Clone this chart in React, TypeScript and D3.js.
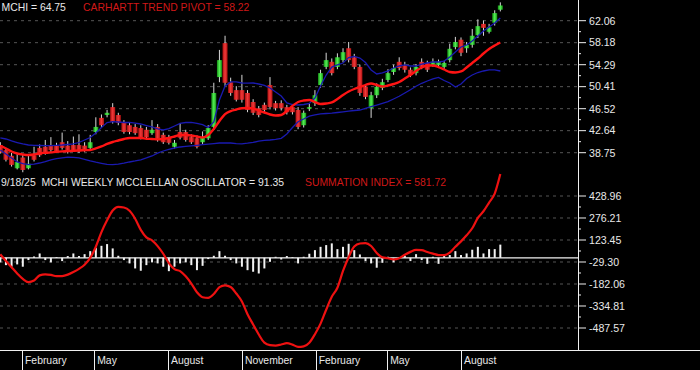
import React from "react";
import * as d3 from "d3";

// ---------- DATA ----------
const startWeek = new Date(2024, 0, 5);
const opens = [40.1,39.2,38.2,36.0,37.9,36.0,38.3,39.6,39.8,40.1, 40.0,40.6,40.0,40.1,40.1,40.0,39.6,42.4,44.9,45.4, 46.8,45.4,44.0,43.6,43.3,43.1,42.8,42.2,43.3,41.9, 41.5,39.8,42.4,42.4,41.5,41.3,40.6,41.3,43.3,52.1, 58.1,51.2,49.8,49.8,49.3,47.7,46.6,47.2,50.7,47.5, 47.5,46.8,46.8,46.3,43.6,46.5,47.5,50.7,53.9,54.8, 53.9,55.1,57.2,55.6,53.9,50.4,46.6,48.9,50.2,51.6, 53.0,54.8,54.2,53.4,52.8,54.8,54.6,54.2,54.2,53.9, 55.1,57.4,58.7,57.2,57.8,59.5,61.5,60.1,61.7,64.0];
const highs = [40.6,39.6,38.7,38.5,38.4,38.2,39.8,40.2,41.0,41.5, 40.5,42.3,40.8,41.6,42.0,40.6,41.9,45.0,45.5,46.3, 47.5,45.8,44.5,44.0,43.8,43.6,43.3,44.5,43.8,42.3, 41.9,41.0,44.0,42.8,42.0,41.8,42.5,43.6,51.1,56.9, 59.4,52.0,50.5,52.5,49.8,48.2,47.0,47.6,52.1,47.9, 48.0,47.2,47.3,46.8,46.2,47.4,49.8,53.4,56.4,55.4, 56.3,57.2,58.3,56.2,54.3,50.8,49.5,51.0,51.8,53.5, 54.3,55.6,54.8,53.8,54.4,55.4,55.0,55.4,55.2,55.0, 58.0,59.2,59.1,58.3,60.6,62.3,62.1,61.5,63.9,65.3];
const lows = [38.6,37.2,36.3,35.8,35.3,35.8,37.2,38.0,38.4,38.9, 38.7,39.3,38.6,38.9,38.7,38.9,39.3,42.0,43.2,45.0, 43.9,43.6,42.1,42.0,41.9,41.1,41.2,41.9,40.7,40.3, 40.2,39.5,41.1,40.7,40.3,39.5,40.3,41.0,42.8,51.2, 50.5,48.8,47.8,47.6,45.9,45.4,45.0,45.9,46.4,46.2, 46.2,45.5,45.5,42.9,43.2,46.1,47.0,50.2,53.5,52.4, 53.5,54.7,54.7,53.5,48.8,48.2,44.9,48.4,49.8,51.2, 52.5,53.3,52.9,52.1,52.4,53.5,53.0,53.9,53.8,53.5, 54.7,57.0,55.8,56.4,57.3,59.0,59.4,59.8,61.2,63.7];
const closes = [38.8,37.5,36.6,37.1,35.7,36.8,37.5,38.3,38.7,39.2, 39.0,39.6,38.9,39.2,39.0,39.2,40.6,43.3,43.6,45.8, 44.2,44.0,42.4,42.4,42.2,41.4,41.5,42.8,41.0,40.6, 40.5,40.5,41.4,41.0,40.6,39.8,41.5,43.1,49.3,55.1, 51.1,49.3,48.1,48.1,46.3,45.8,45.4,46.3,46.8,46.6, 46.6,45.9,45.9,43.3,45.8,46.8,48.9,52.8,55.1,52.8, 55.6,56.5,55.1,53.9,49.3,48.6,48.9,50.4,51.2,52.8, 53.7,53.7,53.4,52.5,53.9,53.9,53.4,54.8,54.8,54.6, 57.1,58.3,56.4,57.8,59.4,61.1,60.8,60.9,63.4,64.75];
const pivot = [39.94,39.50,38.96,38.61,38.43,38.34,38.43,38.66,38.73,38.80, 38.91,38.98,39.03,39.09,39.14,39.19,39.23,39.50,39.85,40.29, 40.64,40.91,41.17,41.35,41.35,41.35,41.22,41.17,41.10,41.17, 41.35,41.61,41.88,41.88,41.79,41.61,41.44,41.88,42.94,44.35, 45.58,46.11,46.38,46.59,46.64,46.56,46.20,45.85,45.50,45.32, 45.41,46.11,47.00,47.70,47.97,48.06,47.70,47.35,47.44,47.62, 48.23,48.94,49.56,50.00,50.35,50.70,50.97,50.70,50.44,50.62, 50.88,51.24,51.85,52.47,53.18,53.80,54.15,54.15,53.88,53.44, 53.00,52.91,53.09,53.80,54.59,55.38,56.27,57.06,57.68,58.22];
const upperBand = [41.35,41.17,40.82,40.55,40.29,40.11,40.06,40.02,39.99,39.99, 40.06,40.11,40.20,40.29,40.55,40.99,41.43,42.23,43.20,44.08, 44.22,44.17,44.08,44.12,43.99,43.82,43.55,43.29,42.94,42.76, 43.02,43.47,43.94,44.08,44.12,43.91,43.70,43.20,44.17,48.06, 50.53,51.24,51.24,51.06,51.02,51.06,50.88,50.62,50.18,49.47, 48.76,47.53,47.26,47.17,47.26,47.44,48.41,50.53,52.47,53.88, 54.24,54.59,55.56,55.74,55.47,54.68,53.36,52.65,52.83,53.18, 53.71,54.06,54.24,54.06,54.06,54.41,54.59,54.77,54.77,54.94, 55.65,56.53,57.42,57.77,58.47,59.36,60.24,60.95,61.65,62.54];
const lowerBand = [39.23,38.52,37.82,37.11,36.83,36.63,36.72,36.93,37.18,37.50, 37.69,37.85,37.96,37.94,37.83,37.57,37.29,37.07,36.88,36.69, 36.63,36.72,36.90,37.11,37.29,37.50,37.82,38.17,38.66,39.05, 39.35,39.58,39.76,39.86,39.95,40.06,40.16,40.25,40.36,40.46, 40.46,40.46,40.36,40.32,40.43,40.57,40.78,40.91,40.99,41.10, 41.29,42.05,43.20,44.21,44.70,45.20,45.41,45.60,45.67,45.74, 45.85,45.97,46.08,46.20,46.29,46.59,46.89,47.17,47.47,47.77, 48.23,48.71,49.29,49.87,50.49,51.01,51.41,51.77,52.05,51.50, 51.06,50.35,50.88,51.85,52.47,52.91,53.18,53.36,53.36,53.18];
const oscillator = [-32,-51,-62,-46,-62,-16,9,30,-16,-32, 5,-23,12,30,12,25,46,69,83,95, 65,14,-16,-39,-74,-90,-51,-32,-39,-62, -93,-62,-39,-32,-51,-86,-56,-9,14,46, 14,-16,-39,-62,-86,-97,-109,-74,-28,7, -12,12,5,-39,7,28,53,76,88,100, 60,76,97,53,23,-23,-39,-69,-35,7, -32,5,14,-23,25,-16,-42,7,-42,14, 19,46,19,30,56,76,30,60,60,91.35];
const summation = [24,-22,-66,-109,-147,-169,-158,-122,-115,-119, -128,-127,-117,-99,-77,-48,-1,77,178,260, 328,354,349,326,271,194,142,121,81,28, -37,-79,-93,-129,-179,-239,-274,-278,-251,-204, -191,-203,-248,-303,-392,-463,-533,-589,-607,-610, -602,-593,-603,-619,-615,-590,-531,-457,-361,-271, -208,-91,4,78,99,102,82,33,3,-3, -11,-3,21,41,55,53,40,29,19,18, 36,76,114,156,205,277,323,383,446,581.72];
const priceTicks = [62.06, 58.18, 54.29, 50.41, 46.52, 42.64, 38.75];
const oscTicks = [428.96, 276.21, 123.45, -29.30, -182.06, -334.81, -487.57];
const axisStart = new Date(2024, 1, 1);
const axisEnd = new Date(2025, 7, 1);
const symbol = "MCHI";
const lastDate = "9/18/25";

// ---------- LAYOUT ----------
const W = 700, H = 370;
const PR = 578;
const AXIS_Y = 350;
const FONT = "'Liberation Sans', Arial, sans-serif";

const dates = closes.map((_, i) => d3.timeWeek.offset(startWeek, i));
const x = d3.scaleTime().domain([axisStart, axisEnd]).range([22, 461]);
const py = d3.scaleLinear().domain([38.75, 62.06]).range([152.7, 20.7]);
const oy = d3.scaleLinear().domain([-487.57, 428.96]).range([328, 196]);
const monthTicks = d3.timeMonth.range(axisStart, new Date(2025, 8, 1), 3);
const fmtMonth = d3.timeFormat("%B");

const lineP = (arr: number[], sc: any, curve: any) =>
  d3.line<number>().x((_, i) => x(dates[i])).y((v) => sc(v)).curve(curve)(arr) || "";

function minors(ticks: number[]) {
  const r: number[] = [];
  for (let i = 0; i < ticks.length - 1; i++) r.push((ticks[i] + ticks[i + 1]) / 2);
  return r;
}

export default function App() {
  const bw = 5;
  return (
    <svg width={W} height={H} style={{ position: "absolute", left: 0, top: 0, background: "#000" }}>
      <defs>
        <linearGradient id="gG" x1="0" x2="1" y1="0" y2="0">
          <stop offset="0" stopColor="#139013" />
          <stop offset="0.5" stopColor="#55f055" />
          <stop offset="1" stopColor="#139013" />
        </linearGradient>
        <linearGradient id="gR" x1="0" x2="1" y1="0" y2="0">
          <stop offset="0" stopColor="#b01010" />
          <stop offset="0.5" stopColor="#f03a3a" />
          <stop offset="1" stopColor="#b01010" />
        </linearGradient>
      </defs>
      <rect width={W} height={H} fill="#000" />
      {/* grids */}
      {priceTicks.map((t, i) => (
        <line key={"pg" + i} x1={0} x2={PR} y1={py(t)} y2={py(t)} stroke="#555" strokeDasharray="3,4" />
      ))}
      {oscTicks.map((t, i) => (
        <line key={"og" + i} x1={0} x2={PR} y1={oy(t)} y2={oy(t)} stroke="#555" strokeDasharray="3,4" />
      ))}
      {/* candles */}
      {dates.map((d, i) => {
        const cx = x(d);
        const up = closes[i] >= opens[i];
        const top = py(Math.max(opens[i], closes[i]));
        const bot = py(Math.min(opens[i], closes[i]));
        return (
          <g key={"c" + i}>
            <line x1={cx} x2={cx} y1={py(highs[i])} y2={py(lows[i])} stroke="#d8d8d8" strokeWidth={1} />
            <rect x={cx - bw / 2} y={top} width={bw} height={Math.max(1.5, bot - top)} fill={up ? "url(#gG)" : "url(#gR)"} />
          </g>
        );
      })}
      <path d={lineP(upperBand, py, d3.curveLinear)} fill="none" stroke="#1a1ab0" strokeWidth={1.3} />
      <path d={lineP(lowerBand, py, d3.curveLinear)} fill="none" stroke="#1a1ab0" strokeWidth={1.3} />
      <path d={lineP(pivot, py, d3.curveMonotoneX)} fill="none" stroke="#ff1414" strokeWidth={2.4} />
      {/* oscillator */}
      {dates.map((d, i) => {
        const v = oscillator[i];
        const y0 = oy(Math.max(0, v));
        const y1 = oy(Math.min(0, v));
        return <rect key={"o" + i} x={x(d) - 1} y={y0} width={2} height={Math.max(0.5, y1 - y0)} fill="#f2f2f2" />;
      })}
      <line x1={0} x2={PR} y1={oy(0)} y2={oy(0)} stroke="#f2f2f2" strokeWidth={1.3} />
      <path d={lineP(summation, oy, d3.curveMonotoneX)} fill="none" stroke="#ee1111" strokeWidth={2.2} />
      {/* axes */}
      <line x1={PR + 0.5} x2={PR + 0.5} y1={0} y2={AXIS_Y} stroke="#f0f0f0" />
      <line x1={0} x2={W} y1={AXIS_Y + 0.5} y2={AXIS_Y + 0.5} stroke="#f0f0f0" />
      {priceTicks.map((t, i) => (
        <g key={"pt" + i}>
          <line x1={PR} x2={PR + 8} y1={py(t)} y2={py(t)} stroke="#f0f0f0" />
          <text x={PR + 11} y={py(t)} dy="0.36em" fill="#e8e8e8" fontSize={10.6} fontFamily={FONT}>{t.toFixed(2)}</text>
        </g>
      ))}
      {minors(priceTicks).map((t, i) => (
        <line key={"pm" + i} x1={PR} x2={PR + 3} y1={py(t)} y2={py(t)} stroke="#f0f0f0" />
      ))}
      {oscTicks.map((t, i) => (
        <g key={"ot" + i}>
          <line x1={PR} x2={PR + 8} y1={oy(t)} y2={oy(t)} stroke="#f0f0f0" />
          <text x={PR + 11} y={oy(t)} dy="0.36em" fill="#e8e8e8" fontSize={10.6} fontFamily={FONT}>{t.toFixed(2)}</text>
        </g>
      ))}
      {minors(oscTicks).map((t, i) => (
        <line key={"om" + i} x1={PR} x2={PR + 3} y1={oy(t)} y2={oy(t)} stroke="#f0f0f0" />
      ))}
      {monthTicks.map((m, i) => (
        <g key={"m" + i}>
          <line x1={Math.round(x(m)) + 0.5} x2={Math.round(x(m)) + 0.5} y1={AXIS_Y} y2={H} stroke="#f0f0f0" />
          <text x={x(m) + 3} y={364} fill="#e8e8e8" fontSize={10.4} fontFamily={FONT}>{fmtMonth(m)}</text>
        </g>
      ))}
      {/* titles */}
      <text x={1.5} y={11} fill="#e8e8e8" fontSize={10.4} fontFamily={FONT}>{`${symbol} = ${closes[closes.length - 1].toFixed(2)}`}</text>
      <text x={83} y={11} fill="#d01818" fontSize={10.4} fontFamily={FONT}>{`CARHARTT TREND PIVOT = ${pivot[pivot.length - 1].toFixed(2)}`}</text>
      <text x={1} y={185.5} fill="#e8e8e8" fontSize={10.4} fontFamily={FONT} style={{ whiteSpace: "pre" }}>{`${lastDate}  ${symbol} WEEKLY MCCLELLAN OSCILLATOR = ${oscillator[oscillator.length - 1].toFixed(2)}`}</text>
      <text x={305} y={185.5} fill="#d01818" fontSize={10.4} fontFamily={FONT}>{`SUMMATION INDEX = ${summation[summation.length - 1].toFixed(2)}`}</text>
    </svg>
  );
}
